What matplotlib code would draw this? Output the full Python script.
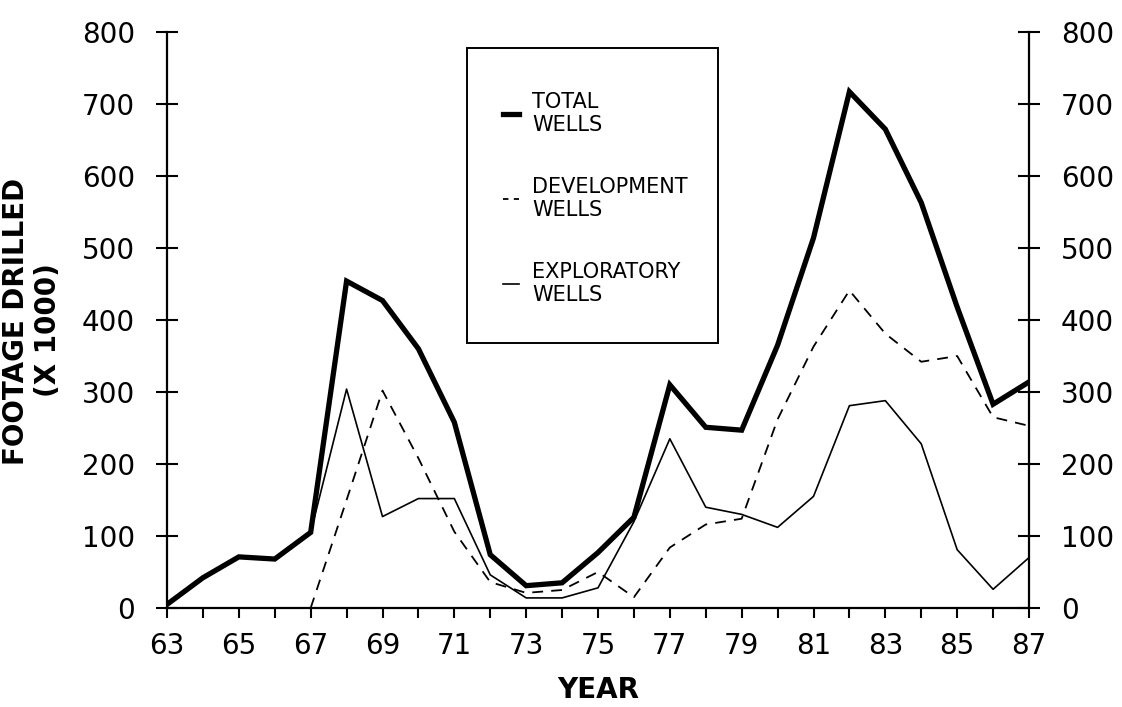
import matplotlib.pyplot as plt
from matplotlib.lines import Line2D
from matplotlib.patches import Rectangle
import numpy as np

plt.rcParams['font.family'] = ['DejaVu Sans']

years = np.arange(63, 88)
total_wells = [5, 42, 71, 68, 105, 454, 427, 360, 258, 74, 31, 35, 77, 126,
               310, 251, 247, 365, 514, 717, 665, 563, 418, 283, 314]
dev_years = np.arange(67, 88)
development_wells = [0, 150, 302, 208, 106, 36, 21, 25, 50, 15,
                     84, 116, 124, 262, 363, 441, 381, 342, 350, 265, 253]
exp_years = np.arange(67, 88)
exploratory_wells = [105, 304, 127, 152, 152, 46, 14, 14, 28, 120,
                     235, 140, 130, 112, 155, 281, 288, 228, 81, 26, 70]

W, H = 1122, 707
fig = plt.figure(figsize=(W / 100, H / 100), dpi=100)
ax = fig.add_axes([167/W, 1 - 608/H, (1029-167)/W, (608-32)/H])

ax.plot(years, total_wells, color='black', lw=3.8, solid_joinstyle='miter')
ax.plot(dev_years, development_wells, color='black', lw=1.3, dashes=(6, 4.5))
ax.plot(exp_years, exploratory_wells, color='black', lw=1.2)

ax.set_xlim(63, 87)
ax.set_ylim(0, 800)
ax.spines['top'].set_visible(False)
for s in ['left', 'right', 'bottom']:
    ax.spines[s].set_linewidth(1.6)

ax.set_xticks(np.arange(63, 88, 2))
ax.set_xticks(np.arange(64, 87, 2), minor=True)
ax.set_yticks(np.arange(0, 801, 100))
ax.tick_params(axis='x', which='both', direction='out', length=7, width=1.5,
               labelsize=20, pad=10)
ax.tick_params(axis='y', direction='inout', length=16, width=1.5, labelsize=20,
               left=True, right=True, labelleft=True, labelright=True, pad=15)

ax.set_xlabel('YEAR', fontsize=20, fontweight='bold', labelpad=12)
fig.text(0.014, 0.545, 'FOOTAGE DRILLED', rotation=90, fontsize=20,
         fontweight='bold', ha='center', va='center')
fig.text(0.043, 0.533, '(X 1000)', rotation=90, fontsize=20,
         fontweight='bold', ha='center', va='center')

# legend box (drawn separately so its size matches the original)
fig.add_artist(Rectangle((467/W, 1 - 343/H), (718-467)/W, (343-48)/H,
                         transform=fig.transFigure, fill=False,
                         edgecolor='black', lw=1.4))
handles = [Line2D([], [], color='black', lw=3.8),
           Line2D([], [], color='black', lw=1.3, dashes=(3, 3)),
           Line2D([], [], color='black', lw=1.2)]
labels = ['TOTAL\nWELLS', 'DEVELOPMENT\nWELLS', 'EXPLORATORY\nWELLS']
leg = fig.legend(handles, labels, loc='upper left',
                 bbox_to_anchor=(503/W, 1 - 92/H),
                 fontsize=15, frameon=False,
                 handlelength=0.75, handletextpad=0.65, labelspacing=2.0,
                 borderpad=0, borderaxespad=0)

fig.savefig('out.png', dpi=100)
